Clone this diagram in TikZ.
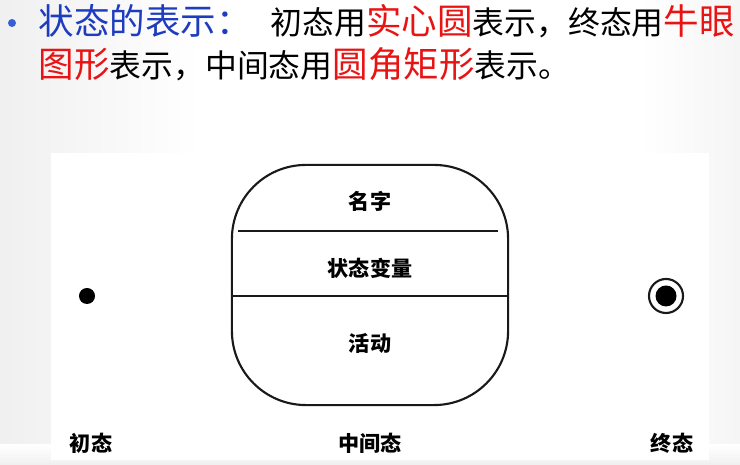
\documentclass[tikz,border=0pt]{standalone}
\usepackage{fontspec}
\usepackage{tikz}
\usetikzlibrary{shapes,positioning}
\newfontfamily\cjk{Noto Sans CJK SC}
\definecolor{slideblue}{RGB}{30,60,190}
\definecolor{bulletblue}{RGB}{55,95,210}
\definecolor{slidered}{RGB}{232,20,20}
\newcommand{\redword}[1]{{\color{slidered}\fontsize{10.1}{12}\selectfont #1}}
\tikzstyle{statetext} = [font=\cjk\bfseries\fontsize{6}{7}\selectfont, inner sep=0pt]
\tikzstyle{titletext} = [anchor=base west, inner sep=0pt, font=\cjk\fontsize{9.05}{11}\selectfont]
\tikzstyle{outline} = [draw=black!90, line width=0.6pt]

\begin{document}
\begin{tikzpicture}[x=0.01cm, y=-0.01cm]
\useasboundingbox (0,0) rectangle (740,465);
% Slide background
\fill[white] (0,0) rectangle (740,465);
\shade[left color=black!6, right color=white] (0,0) rectangle (200,465);
\shade[left color=white, right color=black!4] (640,0) rectangle (740,465);
\shade[top color=white, bottom color=black!6] (0,445) rectangle (740,465);
\fill[white] (51,153) rectangle (709,460);

% Title
\fill[bulletblue] (12,23) circle (4);
\node[titletext, font=\cjk\fontsize{10.1}{12}\selectfont, slideblue] (head) at (38,35) {状态的表示：};
\node[titletext] (line1) at (270,35) {初态用\redword{实心圆}表示，终态用\redword{牛眼}};
\node[titletext] (line2) at (38,78) {\redword{图形}表示，中间态用\redword{圆角矩形}表示。};

% Intermediate state
\node[outline, rounded corners=0.74cm, minimum width=2.76cm, minimum height=2.40cm, inner sep=0pt] (mid) at (370,285) {};
\draw[outline, line width=0.7pt] (238,231) -- (498,231);
\draw[outline] (mid.west |- 0,296) -- (mid.east |- 0,296);
\node[statetext] (name) at (370,201) {名字};
\node[statetext] (vars) at (370,268) {状态变量};
\node[statetext] (act) at (370,343) {活动};

% Initial and final states
\node[circle, fill=black, minimum size=0.16cm, inner sep=0pt] (init) at (87,296) {};
\node[circle, outline, minimum size=0.34cm, inner sep=0pt] (final) at (666,296) {};
\node[circle, fill=black, minimum size=0.21cm, inner sep=0pt] (finaldot) at (final) {};

% Captions
\foreach \x/\id/\txt in {91/initcap/初态, 370/midcap/中间态, 672/finalcap/终态} {
    \node[statetext] (\id) at (\x,443) {\txt};
}
\end{tikzpicture}
\end{document}
